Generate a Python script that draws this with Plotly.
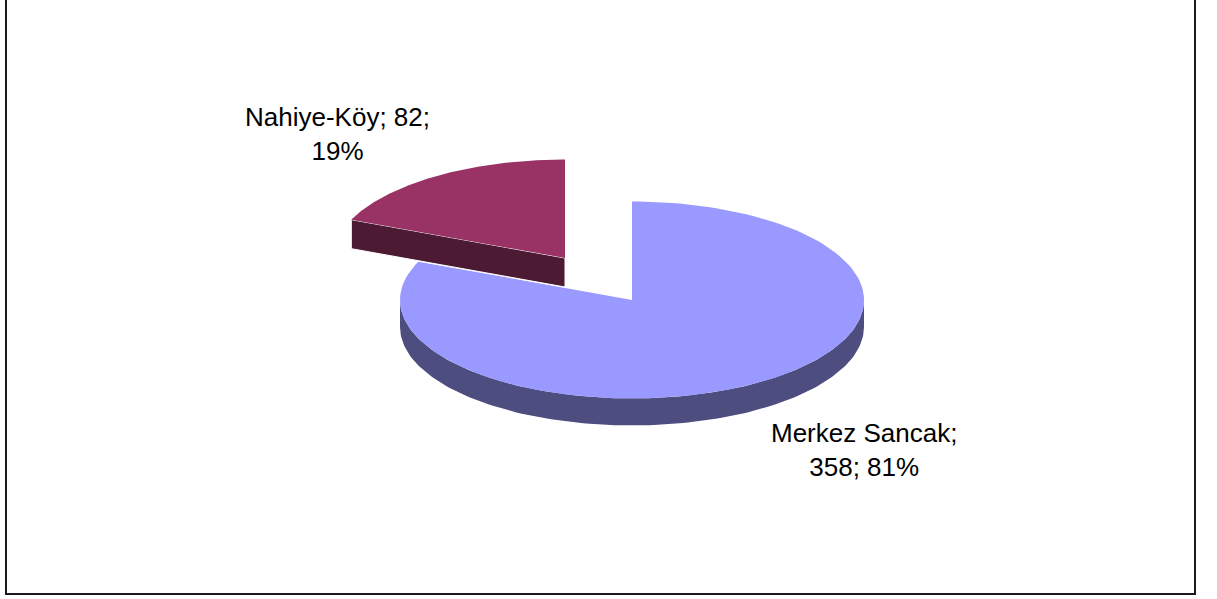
import numpy as np
import plotly.graph_objects as go

categories = ['Merkez Sancak', 'Nahiye-Köy']
values = [358, 82]
top_colors = ['#9999FF', '#993366']
side_colors = ['#4D4D80', '#4D1A33']

# pie geometry in page pixels (axes run 1:1 with the window)
centers = [(632, 300), (565, 258)]
rx = 232
ry = 98.5
depth = 28


def arc(cx, cy, a0, a1, dy=0):
    t = np.radians(np.linspace(a0, a1, 150))
    return cx + rx * np.sin(t), cy - ry * np.cos(t) + dy


def wedge(cx, cy, a0, a1):
    x, y = arc(cx, cy, a0, a1)
    return np.r_[cx, x, cx], np.r_[cy, y, cy]


def add_poly(fig, x, y, color, line=None, width=0):
    fig.add_trace(go.Scatter(x=x, y=y, mode='lines', fill='toself', fillcolor=color,
                             line=dict(color=line or color, width=width),
                             hoverinfo='skip', showlegend=False))


fig = go.Figure()

total = sum(values)
main_end = 360 * values[0] / total

# main slice: outer rim, then top
cx, cy = centers[0]
x1, y1 = arc(cx, cy, 90, 270)
x2, y2 = arc(cx, cy, 270, 90, depth - 1)
add_poly(fig, np.r_[x1, x2, x1[0]], np.r_[y1, y2, y1[0]], side_colors[0])
x, y = wedge(cx, cy, 0, main_end)
add_poly(fig, x, y, top_colors[0])

# exploded slice: cut face, then top
cx, cy = centers[1]
x, y = wedge(cx, cy, main_end, 360)
ex, ey = arc(cx, cy, main_end, main_end)
add_poly(fig, [ex[0], cx, cx, ex[0], ex[0]], [ey[0], cy, cy + depth + 1, ey[0] + depth + 1, ey[0]],
         side_colors[1], line='#FFFFFF', width=1)
add_poly(fig, x, y, top_colors[1])

pct = [round(100 * v / total) for v in values]
label_font = dict(family='Liberation Sans, Arial, sans-serif', size=26, color='#000000')
fig.add_annotation(x=337, y=134, text=f'{categories[1]}; {values[1]};<br>{pct[1]}%',
                   showarrow=False, font=label_font, align='center')
fig.add_annotation(x=864, y=450, text=f'{categories[0]};<br>{values[0]}; {pct[0]}%',
                   showarrow=False, font=label_font, align='center')

fig.add_shape(type='rect', x0=6, x1=1195, y0=-5, y1=594,
              line=dict(color='#1A1A1A', width=2), fillcolor='rgba(0,0,0,0)')

fig.update_xaxes(range=[0, 1217], visible=False)
fig.update_yaxes(range=[599, 0], visible=False)
fig.update_layout(width=1217, height=599, margin=dict(l=0, r=0, t=0, b=0),
                  paper_bgcolor='#FFFFFF', plot_bgcolor='#FFFFFF', showlegend=False)

# drop the browser's default page margin so axis pixels equal window pixels
fig.write_html("out.html", config={'displayModeBar': False},
               post_script="document.body.style.margin='0';document.body.style.overflow='hidden';")
